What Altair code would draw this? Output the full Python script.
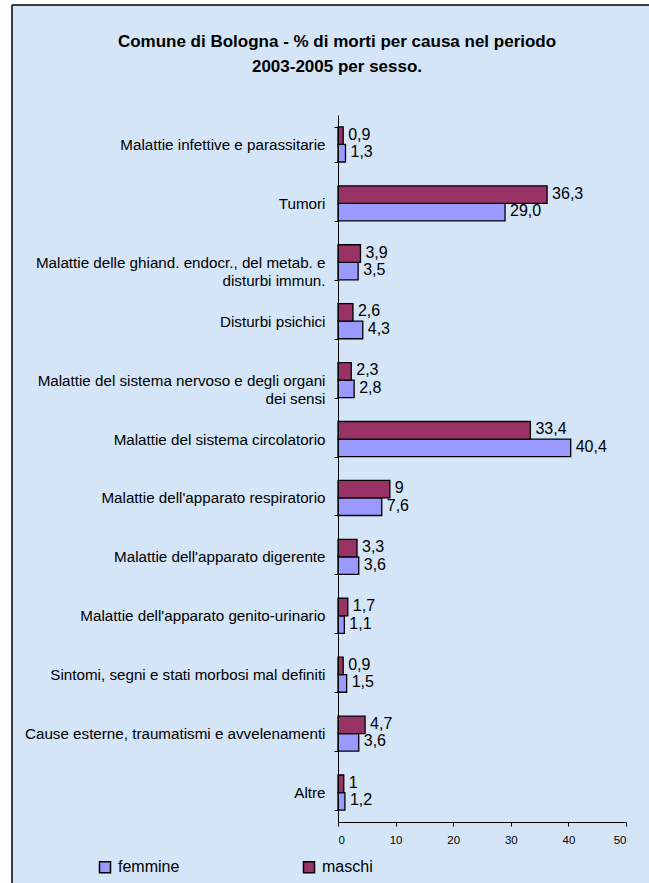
import altair as alt
import pandas as pd

categories = [
    "Malattie infettive e parassitarie",
    "Tumori",
    "Malattie delle ghiand. endocr., del metab. e|disturbi immun.",
    "Disturbi psichici",
    "Malattie del sistema nervoso e degli organi|dei sensi",
    "Malattie del sistema circolatorio",
    "Malattie dell'apparato respiratorio",
    "Malattie dell'apparato digerente",
    "Malattie dell'apparato genito-urinario",
    "Sintomi, segni e stati morbosi mal definiti",
    "Cause esterne, traumatismi e avvelenamenti",
    "Altre",
]
maschi = [0.9, 36.3, 3.9, 2.6, 2.3, 33.4, 9, 3.3, 1.7, 0.9, 4.7, 1]
femmine = [1.3, 29.0, 3.5, 4.3, 2.8, 40.4, 7.6, 3.6, 1.1, 1.5, 3.6, 1.2]
maschi_labels = ["0,9", "36,3", "3,9", "2,6", "2,3", "33,4", "9", "3,3", "1,7", "0,9", "4,7", "1"]
femmine_labels = ["1,3", "29,0", "3,5", "4,3", "2,8", "40,4", "7,6", "3,6", "1,1", "1,5", "3,6", "1,2"]
series = ["femmine", "maschi"]
colors = ["#9999FF", "#993366"]
x_ticks = [0, 10, 20, 30, 40, 50]

rows = []
for c, v, l in zip(categories, femmine, femmine_labels):
    rows.append({"causa": c, "sesso": "femmine", "valore": v, "etichetta": l})
for c, v, l in zip(categories, maschi, maschi_labels):
    rows.append({"causa": c, "sesso": "maschi", "valore": v, "etichetta": l})
df = pd.DataFrame(rows)

BG = "#D4E5F8"
FONT = "Liberation Sans"

frame = alt.Chart(alt.Data(values=[{}])).mark_rect(fill=BG, strokeWidth=0).encode(
    x=alt.value(-326), x2=alt.value(320), y=alt.value(-110), y2=alt.value(780)
)
left_border = alt.Chart(alt.Data(values=[{}])).mark_rule(color="black", strokeWidth=1.5).encode(
    x=alt.value(-326), y=alt.value(-110), y2=alt.value(780)
)
top_border = alt.Chart(alt.Data(values=[{}])).mark_rule(color="black", strokeWidth=1.5).encode(
    x=alt.value(-326), x2=alt.value(320), y=alt.value(-110)
)

y_enc = alt.Y(
    "causa:N",
    sort=categories,
    scale=alt.Scale(paddingInner=0.405, paddingOuter=0.2025),
    axis=alt.Axis(
        title=None,
        labelExpr="isValid(datum.value) ? split(datum.value, '|') : ''",
        labelFont=FONT,
        labelFontSize=15.2,
        labelColor="black",
        labelPadding=9,
        labelLimit=400,
        labelLineHeight=18,
        tickBand="extent",
        tickSize=4,
        tickColor="black",
        domainColor="black",
        zindex=1,
    ),
)
x_enc = alt.X(
    "valore:Q",
    scale=alt.Scale(domain=[0, 50], nice=False),
    axis=alt.Axis(
        title=None,
        values=x_ticks,
        grid=False,
        labelFont=FONT,
        labelFontSize=11.5,
        labelColor="black",
        labelPadding=8,
        tickSize=4,
        tickColor="black",
        domainColor="black",
        zindex=1,
    ),
)
yoff = alt.YOffset("sesso:N", sort=["maschi", "femmine"], scale=alt.Scale(paddingInner=0, paddingOuter=0))

bars = alt.Chart(df).mark_bar(stroke="black", strokeWidth=1.3).encode(
    x=x_enc,
    y=y_enc,
    yOffset=yoff,
    color=alt.Color(
        "sesso:N",
        scale=alt.Scale(domain=series, range=colors),
        legend=alt.Legend(
            title=None,
            orient="none",
            legendX=-241,
            legendY=744,
            direction="horizontal",
            columnPadding=120,
            symbolType="square",
            symbolSize=121,
            symbolStrokeColor="black",
            symbolStrokeWidth=1.5,
            symbolOpacity=1,
            labelFont=FONT,
            labelFontSize=16,
            labelColor="black",
            labelOffset=5,
            padding=0,
        ),
    ),
)

labels = alt.Chart(df).mark_text(
    align="left", baseline="middle", dx=5, dy=-1, font=FONT, fontSize=16, color="black"
).encode(
    x="valore:Q",
    y=alt.Y("causa:N", sort=categories),
    yOffset=alt.YOffset("sesso:N", sort=["maschi", "femmine"]),
    text="etichetta:N",
)

chart = alt.layer(frame, left_border, top_border, bars, labels).properties(
    width=288,
    height=707,
    autosize=alt.AutoSizeParams(type="none"),
    padding={"left": 338, "top": 115, "right": 23, "bottom": 61},
    background="white",
    title=alt.TitleParams(
        text=["Comune di Bologna - % di morti per causa nel periodo", "2003-2005 per sesso."],
        font=FONT,
        fontSize=17,
        fontWeight="bold",
        color="black",
        anchor="middle",
        dx=-145,
        offset=-72,
        lineHeight=25,
    ),
).configure_view(stroke=None)

chart.save("out.html", embed_options={"renderer": "svg", "actions": False})
